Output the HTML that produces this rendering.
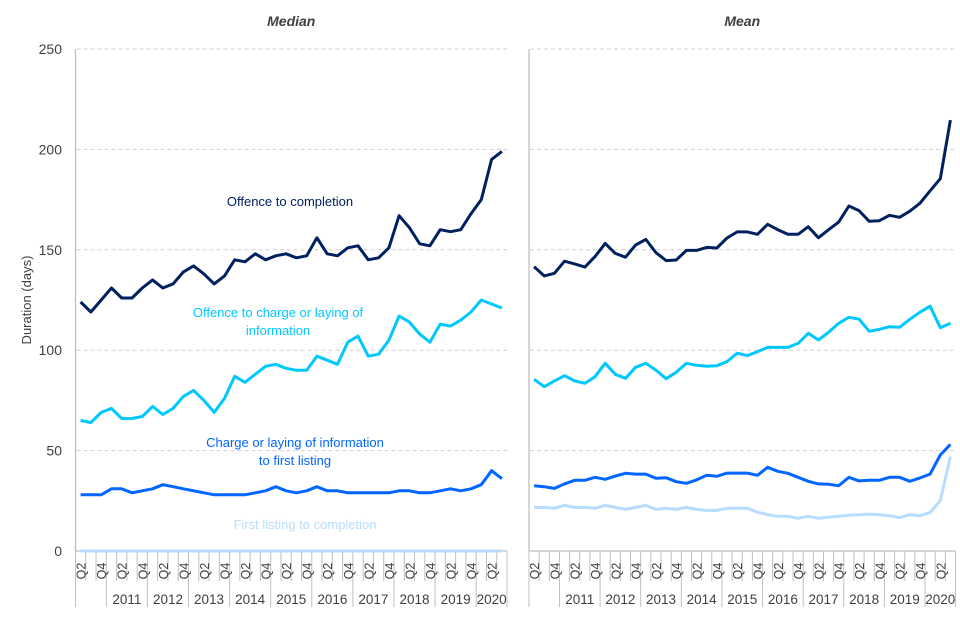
<!DOCTYPE html>
<html><head><meta charset="utf-8"><style>
body{margin:0;background:#fff;}
svg{display:block;font-family:"Liberation Sans",Arial,sans-serif;}
</style></head><body>
<svg id="chart" width="960" height="640" viewBox="0 0 960 640"></svg>
<script>
const quarters = ["Q2","Q3","Q4"];
for (let y = 2011; y <= 2019; y++) quarters.push("Q1","Q2","Q3","Q4");
quarters.push("Q1","Q2","Q3");
const years = ["2011","2012","2013","2014","2015","2016","2017","2018","2019","2020"];
const yTicks = [0,50,100,150,200,250];
const medOffComp = [124,119,125,131,126,126,131,135,131,133,139,142,138,133,137,145,144,148,145,147,148,146,147,156,148,147,151,152,145,146,151,167,161,153,152,160,159,160,168,175,195,199];
const medOffCharge = [65,64,69,71,66,66,67,72,68,71,77,80,75,69,76,87,84,88,92,93,91,90,90,97,95,93,104,107,97,98,105,117,114,108,104,113,112,115,119,125,123,121];
const medChargeList = [28,28,28,31,31,29,30,31,33,32,31,30,29,28,28,28,28,29,30,32,30,29,30,32,30,30,29,29,29,29,29,30,30,29,29,30,31,30,31,33,40,36];
const medListComp = [0,0,0,0,0,0,0,0,0,0,0,0,0,0,0,0,0,0,0,0,0,0,0,0,0,0,0,0,0,0,0,0,0,0,0,0,0,0,0,0,0,0];
const meanOffComp = [141.6,137,138.3,144.3,143,141.4,146.6,153.2,148.2,146.3,152.4,155.2,148.6,144.6,144.9,149.7,149.7,151.2,150.9,155.9,158.9,158.9,157.7,162.7,160,157.7,157.7,161.5,156,160,163.8,171.8,169.5,164.2,164.5,167.2,166.2,169.2,173.2,179.4,185.4,214.6];
const meanOffCharge = [85.5,81.8,84.7,87.3,84.7,83.5,86.8,93.5,88,86,91.5,93.5,90.1,85.8,89,93.5,92.5,92,92.3,94.3,98.5,97.3,99.3,101.4,101.4,101.4,103.4,108.4,105.1,108.9,113.4,116.4,115.5,109.4,110.4,111.7,111.4,115.4,118.9,121.9,111.2,113.4];
const meanChargeList = [32.5,32,31.2,33.4,35.2,35.2,36.7,35.7,37.3,38.7,38.3,38.3,36.2,36.5,34.5,33.7,35.4,37.7,37.2,38.8,38.8,38.8,37.7,41.7,39.7,38.7,36.7,34.7,33.4,33.2,32.5,36.7,34.9,35.2,35.2,36.7,36.7,34.7,36.4,38.3,47.8,53.1];
const meanListComp = [21.7,21.7,21.3,22.7,21.7,21.7,21.3,22.7,21.7,20.7,21.7,22.7,20.7,21.3,20.7,21.7,20.7,20.2,20.2,21.3,21.3,21.3,19.3,18.1,17.3,17.3,16.3,17.3,16.3,16.8,17.3,17.8,18.1,18.4,18.1,17.6,16.6,18.1,17.6,19.1,25.1,47];

const NS="http://www.w3.org/2000/svg";
const svg=document.getElementById('chart');
function mk(tag,attrs,parent){const e=document.createElementNS(NS,tag);for(const k in attrs)e.setAttribute(k,attrs[k]);(parent||svg).appendChild(e);return e;}
const Y0=551,Y1=49;
function yS(v){return Y0-(v/250)*(Y0-Y1);}
const colors=["#002060","#00c8ff","#0066ff","#b8dcff"];

const yt=mk('text',{x:31,y:300,'font-size':13,fill:'#404040','text-anchor':'middle',transform:'rotate(-90 31 300)'});


yt.textContent='Duration (days)';

yTicks.forEach(t=>{
  const tx=mk('text',{x:62,y:yS(t)+5,'font-size':14,fill:'#404040','text-anchor':'end'});
  
  
  tx.textContent=t;
});

function panel(x0,x1,title,series,name,labels){
  const g=mk('g',{});
  
  
  const n=quarters.length, w=(x1-x0)/n;
  const xS=i=>x0+w*(i+0.5);
  const tt=mk('text',{x:(x0+x1)/2,y:26,'font-size':14,'font-weight':'bold','font-style':'italic',fill:'#404040','text-anchor':'middle'},g);
  
  
  tt.textContent=title;
  yTicks.forEach(t=>{ if(t===0)return;
    const l=mk('line',{x1:x0+1,x2:x1,y1:yS(t),y2:yS(t),stroke:'#d0d0d0','stroke-dasharray':'4 3','stroke-width':1},g);
    
    
  });
  const ax=mk('line',{x1:x0,x2:x0,y1:Y1,y2:Y0,stroke:'#bfbfbf','stroke-width':1.3},g);
  
  
  const bx=mk('line',{x1:x0,x2:x1,y1:Y0,y2:Y0,stroke:'#bfbfbf','stroke-width':1.3},g);
  
  
  for(let i=0;i<=n;i++){
    const xx=x0+w*i;
    const isYear=(i===0||i===n||quarters[i]==="Q1");
    mk('line',{x1:xx,x2:xx,y1:Y0,y2:isYear?607:581,stroke:'#bfbfbf','stroke-width':1},g);
  }
  quarters.forEach((q,i)=>{
    if(q==="Q2"||q==="Q4"){
      const cx=xS(i)+5, cy=571;
      const t=mk('text',{x:cx,y:cy,'font-size':12.5,fill:'#404040','text-anchor':'middle',transform:`rotate(-90 ${cx} ${cy})`},g);
      
      
      t.textContent=q;
    }
  });
  let start=3;
  years.forEach((yr,k)=>{
    const cnt=(yr==="2020")?3:4;
    const cx=x0+w*(start+cnt/2);
    const t=mk('text',{x:cx,y:604,'font-size':13.5,fill:'#404040','text-anchor':'middle'},g);
    
    
    t.textContent=yr;
    start+=cnt;
  });
  series.slice().reverse().forEach((s,ri)=>{
    const si=series.length-1-ri;
    const p=mk('polyline',{points:s.map((v,i)=>xS(i).toFixed(1)+','+yS(v).toFixed(1)).join(' '),fill:'none',stroke:colors[si],'stroke-width':3,'stroke-linejoin':'round'},g);
    
    
  });
  (labels||[]).forEach(L=>{
    const t=mk('text',{x:L.x,y:L.y,'font-size':13,fill:L.c,'text-anchor':'middle'},g);
    
    
    L.t.forEach((line,j)=>{const ts=mk('tspan',{x:L.x,dy:j?18:0},t);ts.textContent=line;});
  });
}
panel(75.5,507,"Median",[medOffComp,medOffCharge,medChargeList,medListComp],"median",[
  {x:290,y:206,c:colors[0],t:["Offence to completion"],n:'offence-to-completion-label'},
  {x:278,y:317,c:colors[1],t:["Offence to charge or laying of","information"],n:'offence-to-charge-label'},
  {x:295,y:447,c:colors[2],t:["Charge or laying  of information","to first listing"],n:'charge-to-listing-label'},
  {x:305,y:529,c:colors[3],t:["First listing to completion"],n:'listing-to-completion-label'}
]);
panel(529,955.5,"Mean",[meanOffComp,meanOffCharge,meanChargeList,meanListComp],"mean",[]);
</script>
</body></html>
